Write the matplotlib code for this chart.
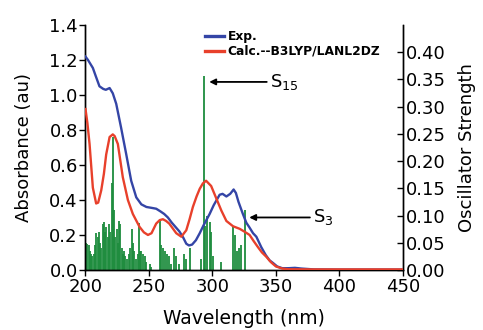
import matplotlib
matplotlib.use("Agg")
import matplotlib.pyplot as plt

plt.rcParams['font.family'] = ['DejaVu Sans']

# Experimental spectrum
exp_wl = [200, 202, 205.8, 208, 211, 214, 216, 219, 221.5, 224.2, 228, 232, 236, 240,
          244, 248, 252, 255.7, 259, 262, 264.9, 268, 271, 274, 277, 279.4, 281.5, 284,
          287, 290, 293, 297.8, 301, 305.7, 308, 311, 314, 316.7, 318.5, 320.5, 324,
          326.7, 329, 332, 334.6, 338.5, 342, 345, 347.7, 351, 355, 360, 365, 370, 380,
          400, 450]
exp_ab = [1.22, 1.20, 1.155, 1.11, 1.05, 1.035, 1.03, 1.04, 1.01, 0.95, 0.815, 0.665,
          0.51, 0.415, 0.375, 0.36, 0.355, 0.35, 0.335, 0.32, 0.30, 0.27, 0.245, 0.22,
          0.185, 0.15, 0.14, 0.145, 0.17, 0.21, 0.255, 0.32, 0.37, 0.43, 0.435, 0.42,
          0.435, 0.46, 0.44, 0.39, 0.32, 0.27, 0.245, 0.21, 0.19, 0.13, 0.085, 0.055,
          0.04, 0.02, 0.01, 0.01, 0.012, 0.008, 0.003, 0.002, 0.002]

# Calculated spectrum
calc_wl = [200, 201.5, 203.2, 205.8, 208.4, 210, 212.4, 214.5, 216.3, 219, 221.5, 223,
           225.5, 229.4, 233.4, 237.3, 242.6, 246, 249.2, 252, 255.7, 258.5, 261, 263.5,
           266, 268.5, 271.5, 275.5, 279.4, 282, 284.6, 287.5, 290, 292.5, 295, 299, 303,
           307, 311, 316.2, 321.5, 325, 329.3, 332.5, 335.9, 339, 342.5, 346, 350, 355,
           360, 380, 450]
calc_ab = [0.92, 0.84, 0.72, 0.47, 0.38, 0.385, 0.455, 0.55, 0.66, 0.76, 0.775, 0.765,
           0.72, 0.53, 0.40, 0.32, 0.246, 0.215, 0.20, 0.21, 0.265, 0.285, 0.29, 0.28,
           0.265, 0.24, 0.21, 0.19, 0.227, 0.29, 0.36, 0.42, 0.464, 0.495, 0.51, 0.48,
           0.41, 0.34, 0.28, 0.25, 0.235, 0.22, 0.20, 0.165, 0.13, 0.10, 0.075, 0.045,
           0.02, 0.008, 0.004, 0.003, 0.003]

# Oscillator strengths (stick spectrum)
osc_wl = [200.5, 201.5, 202.5, 203.5, 204.5, 205.5, 206.5, 207.5, 208.5, 209.5, 210.5,
          211.5, 212.5, 213.5, 214.5, 215.5, 216.5, 217.5, 218.5, 219.5, 220.5, 221.5,
          222.5, 223.5, 224.5, 225.5, 226.5, 227.5, 228.5, 229.5, 230.5, 231.5, 232.5,
          234, 235, 236.5, 237.5, 238.5, 239.5, 241, 241.8, 243, 244, 245, 246.5, 248,
          250.5, 252, 258.5, 259.5, 261, 262.5, 264, 265.5, 267, 270, 271, 274, 278, 279,
          282.5, 291, 293, 294, 296, 297.8, 299, 300.5, 307, 316.5, 318, 319.5, 321,
          322.5, 325.5]
osc_f = [0.05, 0.048, 0.045, 0.035, 0.03, 0.025, 0.03, 0.045, 0.068, 0.06, 0.07, 0.05,
         0.04, 0.085, 0.089, 0.07, 0.078, 0.06, 0.085, 0.07, 0.16, 0.245, 0.11, 0.06,
         0.075, 0.05, 0.09, 0.085, 0.04, 0.03, 0.035, 0.025, 0.02, 0.03, 0.04, 0.075,
         0.05, 0.035, 0.02, 0.03, 0.086, 0.035, 0.035, 0.03, 0.025, 0.015, 0.01, 0.005,
         0.092, 0.045, 0.04, 0.035, 0.03, 0.025, 0.01, 0.04, 0.025, 0.01, 0.03, 0.02,
         0.04, 0.02, 0.356, 0.08, 0.10, 0.089, 0.07, 0.025, 0.015, 0.08, 0.065, 0.035,
         0.04, 0.045, 0.11]

xticks = [200, 250, 300, 350, 400, 450]
yticks_left = [0.0, 0.2, 0.4, 0.6, 0.8, 1.0, 1.2, 1.4]
yticks_right = [0.00, 0.05, 0.10, 0.15, 0.20, 0.25, 0.30, 0.35, 0.40]

BLUE = '#3445a6'
RED = '#e8402b'
GREEN = '#1e8c3e'

fig = plt.figure(figsize=(4.83, 3.30), dpi=100)
ax = fig.add_axes([0.177, 0.182, 0.657, 0.742])
ax2 = ax.twinx()

ax2.vlines(osc_wl, 0, osc_f, color=GREEN, linewidth=1.3, zorder=1)
ax.plot(exp_wl, exp_ab, color=BLUE, lw=1.7, label='Exp.', zorder=3)
ax.plot(calc_wl, calc_ab, color=RED, lw=1.7, label='Calc.--B3LYP/LANL2DZ', zorder=3)

ax.set_zorder(ax2.get_zorder() + 1)
ax.patch.set_visible(False)

ax.set_xlim(200, 450)
ax.set_ylim(0, 1.4)
ax2.set_ylim(0, 0.45)
ax.set_xticks(xticks)
ax.set_yticks(yticks_left)
ax.set_yticklabels([f'{v:.1f}' for v in yticks_left])
ax2.set_yticks(yticks_right)
ax2.set_yticklabels([f'{v:.2f}' for v in yticks_right])

for a in (ax, ax2):
    a.spines['top'].set_visible(False)
    for s in a.spines.values():
        s.set_linewidth(1.0)
ax.tick_params(axis='both', which='major', labelsize=13, length=4, width=1, pad=1.5,
               direction='out')
ax2.tick_params(axis='y', labelsize=13, length=4, width=1, pad=2, direction='in')

ax.set_xlabel('Wavelength (nm)', fontsize=13.5, labelpad=10)
ax.set_ylabel('Absorbance (au)', fontsize=13, labelpad=12)
ax2.set_ylabel('Oscillator Strength', fontsize=13, labelpad=9)

leg = ax.legend(loc='upper left', bbox_to_anchor=(0.36, 1.0), frameon=False,
                prop={'weight': 'bold', 'size': 8.8}, handlelength=1.6,
                handletextpad=0.3, labelspacing=0.15, borderaxespad=0)
for line in leg.get_lines():
    line.set_linewidth(2.4)

ax.annotate('S$_{15}$', xy=(297.5, 1.075), xytext=(345, 1.075), va='center', ha='left',
            fontsize=13,
            arrowprops=dict(arrowstyle='-|>', color='black', lw=1.3, mutation_scale=9,
                            shrinkA=0, shrinkB=0))
ax.annotate('S$_{3}$', xy=(329, 0.30), xytext=(379, 0.30), va='center', ha='left',
            fontsize=13,
            arrowprops=dict(arrowstyle='-|>', color='black', lw=1.3, mutation_scale=9,
                            shrinkA=0, shrinkB=0))

fig.savefig('out.png', dpi=100)
